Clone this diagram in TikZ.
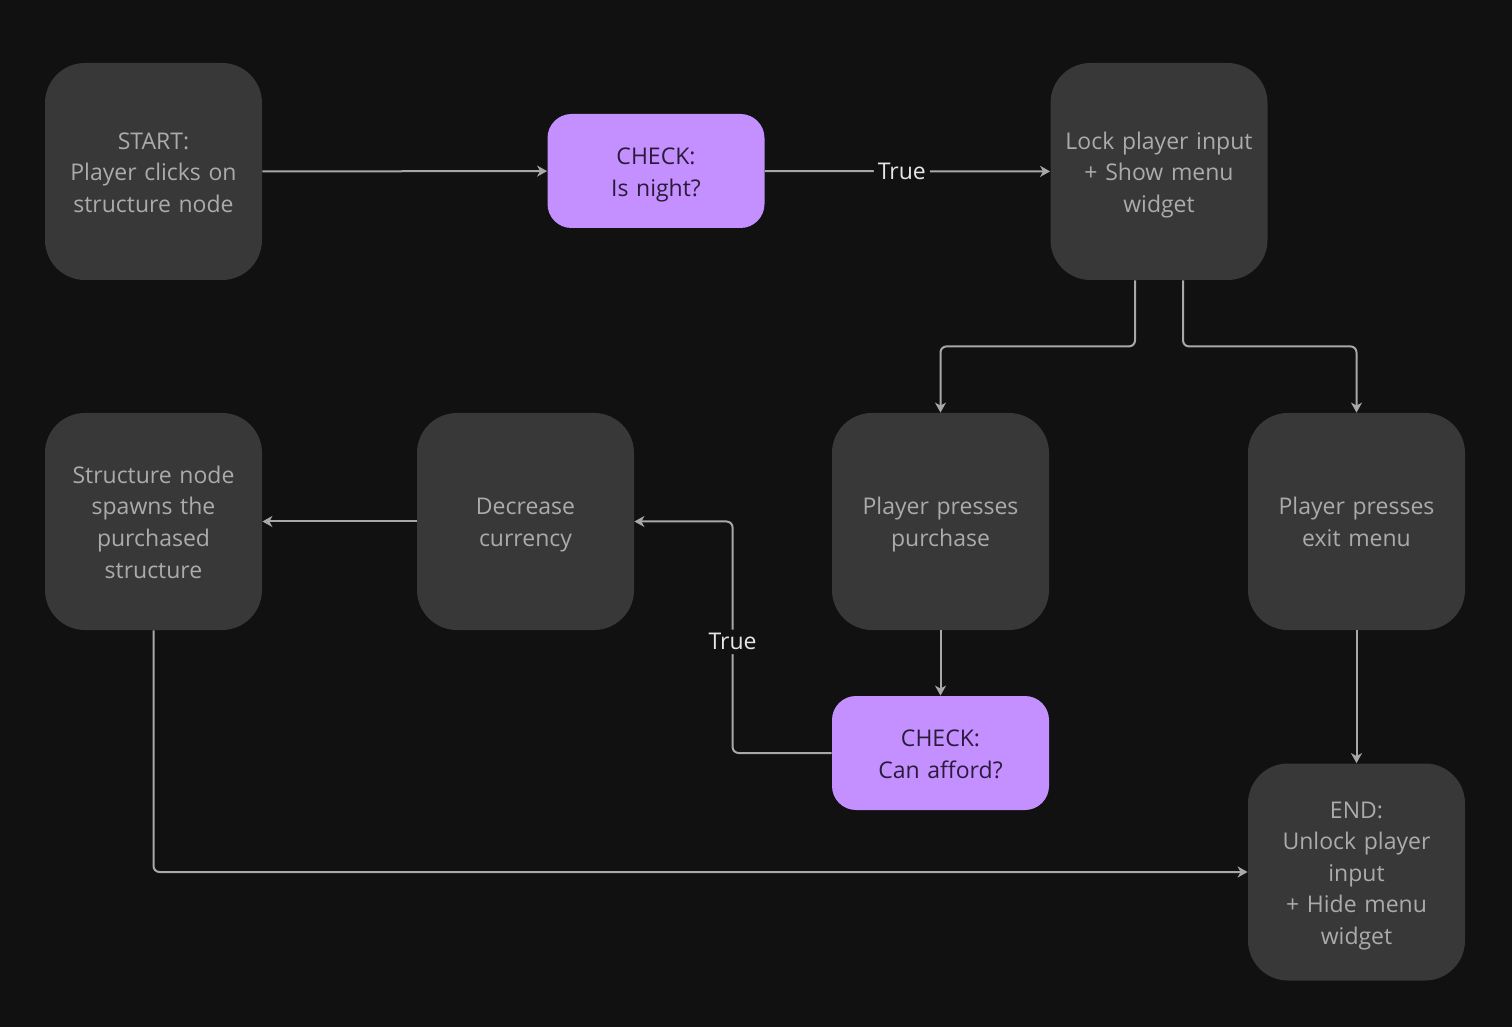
\documentclass[tikz,border=0pt]{standalone}
\usepackage{fontspec}
\setmainfont{Open Sans}
\usetikzlibrary{arrows.meta}

\definecolor{bgc}{HTML}{111111}
\definecolor{boxc}{HTML}{383838}
\definecolor{boxtext}{HTML}{ABABAB}
\definecolor{checkc}{HTML}{C490FF}
\definecolor{checktext}{HTML}{2B1B3B}
\definecolor{linec}{HTML}{A8A8A8}
\definecolor{labeltext}{HTML}{E6E6E6}

\begin{document}
\begin{tikzpicture}[x=0.5pt, y=-0.5pt,
    every node/.style={font=\fontsize{11.5pt}{15.8pt}\selectfont, align=center},
    stepbox/.style={fill=boxc, text=boxtext, rounded corners=20pt,
        minimum width=108.5pt, minimum height=108.5pt, inner sep=0pt, text width=104pt,
        execute at begin node={\rule{0pt}{14pt}}, execute at end node=\strut},
    checkbox/.style={fill=checkc, text=checktext, rounded corners=12pt,
        minimum width=108.5pt, minimum height=57pt, inner sep=0pt, text width=104pt,
        execute at begin node={\rule{0pt}{14pt}}, execute at end node=\strut},
    conn/.style={draw=linec, line width=1pt, rounded corners=3pt,
        -{Stealth[length=5pt, width=5.5pt, inset=1.5pt]}},
    lbl/.style={fill=bgc, text=labeltext, inner sep=2pt}]
            \fill[bgc] (0,0) rectangle (1512,1027);
            \useasboundingbox (0,0) rectangle (1512,1027);
            % top row
            \node[stepbox] (start) at (153.5,171.5) {START:\\Player clicks on\\structure node};
            \node[checkbox] (night) at (656,171) {CHECK:\\Is night?};
            \node[stepbox] (lock) at (1159,171.5) {Lock player input\\+ Show menu\\widget};
            % middle row
            \node[stepbox] (spawn) at (153.5,521.5) {Structure node\\spawns the\\purchased\\structure};
            \node[stepbox] (decrease) at (525.5,521.5) {Decrease\\currency};
            \node[stepbox] (purchase) at (940.5,521.5) {Player presses\\purchase};
            \node[stepbox] (exit) at (1356.5,521.5) {Player presses\\exit menu};
            % bottom row
            \node[checkbox] (afford) at (940.5,753) {CHECK:\\Can afford?};
            \node[stepbox] (end) at (1356.5,872) {END:\\Unlock player\\input\\+ Hide menu\\widget};
            % connectors
            \draw[conn] (start) -- (night);
            \draw[conn] (night) -- node[lbl, pos=0.48]{True} (lock);
            \draw[conn] ([xshift=-12pt]lock.south) -- ++(0,66) -| (purchase.north);
            \draw[conn] ([xshift=12pt]lock.south) -- ++(0,66) -| (exit.north);
            \draw[conn] (purchase) -- (afford);
            \draw[conn] (afford.west) -- ++(-99,0) |- node[lbl, pos=0.24]{True} (decrease.east);
            \draw[conn] (decrease) -- (spawn);
            \draw[conn] (spawn.south) |- (end.west);
            \draw[conn] (exit) -- (end);
\end{tikzpicture}
\end{document}
